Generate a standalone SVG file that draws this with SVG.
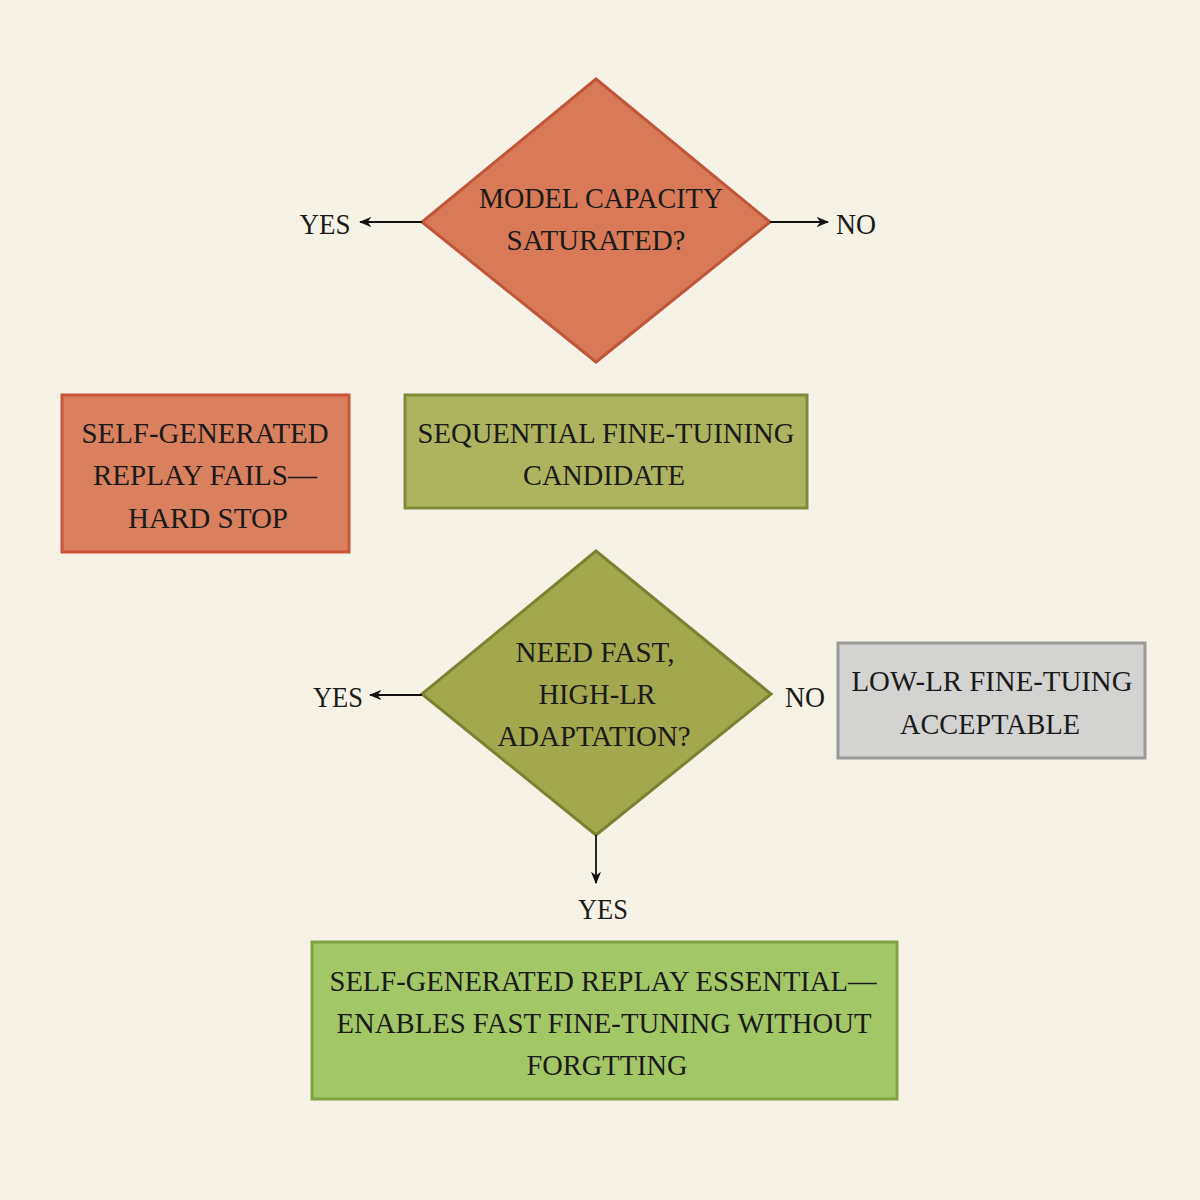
<svg xmlns="http://www.w3.org/2000/svg" width="1200" height="1200" viewBox="0 0 1200 1200">
<defs>
<style>
text{font-family:"Liberation Serif","DejaVu Serif",serif;font-size:30px;fill:#1a1a1a;text-anchor:middle;dominant-baseline:central}
.c{stroke:#111;stroke-width:1.8;fill:none;marker-end:url(#ah)}
</style>
<marker id="ah" viewBox="0 0 10 10" refX="9" refY="5" markerWidth="7" markerHeight="7" orient="auto"><path d="M0,1 L10,5 L0,9 L3,5 Z" fill="#111"/></marker>
</defs>
<rect width="1200" height="1200" fill="#f6f2e6"/>
<g id="d1">
<polygon points="596,79 770,222 596,362 422,222" fill="#d87a57" stroke="#c0553a" stroke-width="3"/>
<text x="601" y="197" textLength="244" lengthAdjust="spacingAndGlyphs">MODEL CAPACITY</text>
<text x="596" y="239" textLength="179" lengthAdjust="spacingAndGlyphs">SATURATED?</text>
</g>
<g id="fail">
<rect x="62" y="395" width="287" height="157" fill="#d9805e" stroke="#c8553a" stroke-width="3"/>
<text x="205" y="432" textLength="247" lengthAdjust="spacingAndGlyphs">SELF-GENERATED</text>
<text x="205" y="474" textLength="224" lengthAdjust="spacingAndGlyphs">REPLAY FAILS—</text>
<text x="208" y="517" textLength="160" lengthAdjust="spacingAndGlyphs">HARD STOP</text>
</g>
<g id="seq">
<rect x="405" y="395" width="402" height="113" fill="#adb35e" stroke="#7f8a3a" stroke-width="3"/>
<text x="606" y="432" textLength="377" lengthAdjust="spacingAndGlyphs">SEQUENTIAL FINE-TUINING</text>
<text x="604" y="474" textLength="162" lengthAdjust="spacingAndGlyphs">CANDIDATE</text>
</g>
<g id="d2">
<polygon points="596,551 771,694 596,835 422,694" fill="#a3a84f" stroke="#7a8232" stroke-width="3"/>
<text x="595" y="651" textLength="159" lengthAdjust="spacingAndGlyphs">NEED FAST,</text>
<text x="597" y="693" textLength="117" lengthAdjust="spacingAndGlyphs">HIGH-LR</text>
<text x="594" y="735" textLength="193" lengthAdjust="spacingAndGlyphs">ADAPTATION?</text>
</g>
<g id="low">
<rect x="838" y="643" width="307" height="115" fill="#d3d3d1" stroke="#999" stroke-width="3"/>
<text x="992" y="680" textLength="281" lengthAdjust="spacingAndGlyphs">LOW-LR FINE-TUING</text>
<text x="990" y="723" textLength="180" lengthAdjust="spacingAndGlyphs">ACCEPTABLE</text>
</g>
<g id="ess">
<rect x="312" y="942" width="585" height="157" fill="#a3c767" stroke="#7ea23f" stroke-width="3"/>
<text x="603" y="980" textLength="547" lengthAdjust="spacingAndGlyphs">SELF-GENERATED REPLAY ESSENTIAL—</text>
<text x="604" y="1022" textLength="535" lengthAdjust="spacingAndGlyphs">ENABLES FAST FINE-TUNING WITHOUT</text>
<text x="607" y="1064" textLength="161" lengthAdjust="spacingAndGlyphs">FORGTTING</text>
</g>
<g id="connectors">
<path class="c" d="M422,222 H360"/>
<path class="c" d="M770,222 H828"/>
<path class="c" d="M422,695 H370"/>
<path class="c" d="M596,835 V883"/>
<text x="325" y="223" textLength="51" lengthAdjust="spacingAndGlyphs">YES</text>
<text x="856" y="223" textLength="40" lengthAdjust="spacingAndGlyphs">NO</text>
<text x="338" y="696" textLength="50" lengthAdjust="spacingAndGlyphs">YES</text>
<text x="805" y="696" textLength="40" lengthAdjust="spacingAndGlyphs">NO</text>
<text x="603" y="908" textLength="50" lengthAdjust="spacingAndGlyphs">YES</text>
</g>
</svg>
